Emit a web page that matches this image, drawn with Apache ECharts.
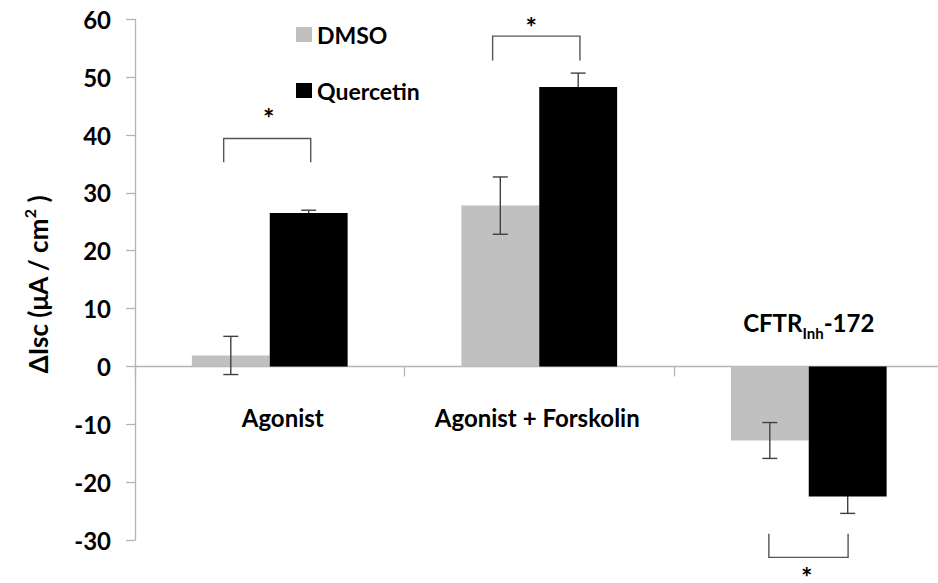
<!DOCTYPE html>
<html>
<head>
<meta charset="utf-8">
<script src="https://cdn.jsdelivr.net/npm/echarts@6/dist/echarts.min.js"></script>
<style>
  html, body { margin: 0; padding: 0; background: #ffffff; }
  #chart { width: 938px; height: 583px; }
</style>
</head>
<body>
<div id="chart"></div>
<script>
// Short-circuit current change (µA/cm²), mean ± error
const categories = ['Agonist', 'Agonist + Forskolin', 'CFTRInh-172'];
const seriesNames = ['DMSO', 'Quercetin'];
const dmso = [1.9, 27.8, -12.8];
const dmsoErr = [3.3, 4.95, 3.1];
const quercetin = [26.5, 48.3, -22.5];
const quercetinErr = [0.5, 2.4, 2.9];

// Value axis ticks
const yMin = -30;
const yMax = 60;
const yStep = 10;

// Significance brackets (value-axis levels) and their marks
const sigMark = ['*', '*', '*'];
const bracketBar = [39.4, 57.1, -33.0];
const bracketFoot = [35.3, 52.9, -28.9];
const starLevel = [43.8, 59.5, -35.6];

// ---- drawing ----
const FONT = 'Lato, "Open Sans", sans-serif';
const GREY = '#c0c0c0';
const AXIS = '#b4b4b4';
const WHISKER = '#404040';
const BAR_FRAC = 0.289;            // bar width as a share of the category band

// text placement of category names, relative to the zero line (px)
const nameDx = [13, -2, 0];
const nameDy = [51, 51, -41];
const nameText = ['Agonist', 'Agonist + Forskolin', '{m|CFTR}{s|Inh}{m|-172}'];
// bracket ends, as a share of the category band
const bracketLeft = [-0.171, -0.173, -0.148];
const bracketRight = [0.152, 0.151, 0.146];
const starDx = [-1, -8, -2];
const STAR_SIZE = 27;

function errorBars(name, values, errs, side, z) {
  return {
    type: 'custom',
    name: name,
    z: z,
    silent: true,
    clip: false,
    data: values.map((v, i) => [i, v, errs[i]]),
    encode: { x: 0, y: 1 },
    renderItem(params, api) {
      const i = api.value(0), v = api.value(1), e = api.value(2);
      const band = api.size([1, 0])[0];
      const hi = api.coord([i, v + e]);
      const lo = api.coord([i, v - e]);
      const x = hi[0] + side * band * BAR_FRAC / 2;
      const cap = 7.5;
      const st = { stroke: WHISKER, lineWidth: 1.4 };
      return {
        type: 'group',
        children: [
          { type: 'line', shape: { x1: x, y1: hi[1], x2: x, y2: lo[1] }, style: st },
          { type: 'line', shape: { x1: x - cap, y1: hi[1], x2: x + cap, y2: hi[1] }, style: st },
          { type: 'line', shape: { x1: x - cap, y1: lo[1], x2: x + cap, y2: lo[1] }, style: st }
        ]
      };
    }
  };
}

const chart = echarts.init(document.getElementById('chart'), null, { renderer: 'svg' });

chart.setOption({
  animation: false,
  backgroundColor: '#ffffff',
  grid: { left: 135, width: 808.5, top: 19.3, bottom: 43, outerBoundsMode: 'none' },
  legend: {
    orient: 'vertical',
    left: 296,
    top: 23,
    padding: 0,
    itemWidth: 16,
    itemHeight: 15,
    itemGap: 33,
    selectedMode: false,
    data: [{ name: 'DMSO', icon: 'rect' }, { name: 'Quercetin', icon: 'rect' }],
    textStyle: { fontFamily: FONT, fontWeight: 'bold', fontSize: 23, color: '#000' }
  },
  xAxis: {
    type: 'category',
    data: categories,
    axisLine: { onZero: true, lineStyle: { color: AXIS, width: 1.3 } },
    axisTick: { show: true, length: 10, lineStyle: { color: AXIS, width: 1.3 } },
    axisLabel: { show: false },
    splitLine: { show: false }
  },
  yAxis: {
    type: 'value',
    min: yMin,
    max: yMax,
    interval: yStep,
    name: '{t|ΔIsc (μA / cm}{p|2}{t| )}',
    nameLocation: 'middle',
    nameRotate: 90,
    nameGap: 84,
    nameTextStyle: {
      padding: [0, 10, 0, 0],
      rich: {
        t: { fontFamily: FONT, fontWeight: 'bold', fontSize: 26, color: '#000', lineHeight: 30, verticalAlign: 'bottom' },
        p: { fontFamily: FONT, fontWeight: 'bold', fontSize: 16, color: '#000', lineHeight: 30, verticalAlign: 'top' }
      }
    },
    axisLine: { show: true, lineStyle: { color: AXIS, width: 1.3 } },
    axisTick: { show: true, length: 9, lineStyle: { color: AXIS, width: 1.3 } },
    axisLabel: { margin: 24, fontFamily: FONT, fontWeight: 'bold', fontSize: 24, color: '#000' },
    splitLine: { show: false }
  },
  series: [
    {
      name: seriesNames[0], type: 'bar', data: dmso, z: 2,
      barWidth: (BAR_FRAC * 100) + '%', barGap: '0%',
      itemStyle: { color: GREY }
    },
    errorBars('DMSO error', dmso, dmsoErr, -1, 3),
    {
      name: seriesNames[1], type: 'bar', data: quercetin, z: 4,
      barWidth: (BAR_FRAC * 100) + '%', barGap: '0%',
      itemStyle: { color: '#000000' }
    },
    errorBars('Quercetin error', quercetin, quercetinErr, 1, 3),
    {
      // significance brackets with their asterisks
      type: 'custom', name: 'significance', z: 6, silent: true, clip: false,
      data: categories.map((c, i) => [i, bracketBar[i], bracketFoot[i], starLevel[i]]),
      encode: { x: 0, y: 1 },
      renderItem(params, api) {
        const i = api.value(0);
        const band = api.size([1, 0])[0];
        const bar = api.coord([i, api.value(1)]);
        const foot = api.coord([i, api.value(2)]);
        const star = api.coord([i, api.value(3)]);
        const xl = bar[0] + bracketLeft[i] * band;
        const xr = bar[0] + bracketRight[i] * band;
        return {
          type: 'group',
          children: [
            { type: 'polyline', shape: { points: [[xl, foot[1]], [xl, bar[1]], [xr, bar[1]], [xr, foot[1]]] },
              style: { stroke: '#555555', lineWidth: 1.4, fill: null } },
            { type: 'text', x: star[0] + starDx[i], y: star[1] + STAR_SIZE * 0.15,
              style: { text: sigMark[i], font: 'bold ' + STAR_SIZE + 'px ' + FONT, lineHeight: 12,
                       fill: '#000', align: 'center', verticalAlign: 'middle' } }
          ]
        };
      }
    },
    {
      // category names
      type: 'custom', name: 'category names', z: 6, silent: true, clip: false,
      data: categories.map((c, i) => [i, 0]),
      encode: { x: 0, y: 1 },
      renderItem(params, api) {
        const i = api.value(0);
        const p = api.coord([i, 0]);
        return {
          type: 'text',
          x: p[0] + nameDx[i],
          y: p[1] + nameDy[i],
          style: {
            text: nameText[i],
            fontFamily: FONT, fontWeight: 'bold', fontSize: 24, fill: '#000',
            align: 'center', verticalAlign: 'middle',
            rich: {
              m: { fontFamily: FONT, fontWeight: 'bold', fontSize: 24, fill: '#000', lineHeight: 30, verticalAlign: 'top' },
              s: { fontFamily: FONT, fontWeight: 'bold', fontSize: 15, fill: '#000', lineHeight: 30, verticalAlign: 'bottom' }
            }
          }
        };
      }
    }
  ]
});
</script>
</body>
</html>
